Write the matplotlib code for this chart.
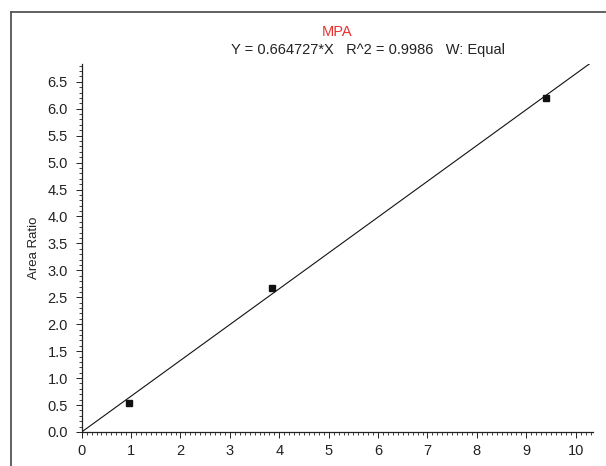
import numpy as np
import matplotlib.pyplot as plt
from matplotlib.ticker import MultipleLocator, FormatStrFormatter
from matplotlib.lines import Line2D

plt.rcParams['font.family'] = ['Liberation Sans', 'DejaVu Sans']

# calibration points
conc = [0.96, 3.86, 9.40]
area_ratio = [0.53, 2.68, 6.20]
slope = 0.664727
x_max = 10.35
y_max = 6.83

title = 'MPA'
equation = 'Y = 0.664727*X   R^2 = 0.9986   W: Equal'

fig = plt.figure(figsize=(6.06, 4.66), dpi=100)
ax = fig.add_axes([0.1348, 0.073, 0.8437, 0.7897])

# outer frame: only its left and top edges are inside the crop
fx, fy = 10.5 / 606, 1 - 12 / 466
fig.lines.append(Line2D([fx, fx], [0, fy], transform=fig.transFigure,
                        color='#555555', linewidth=1.3))
fig.lines.append(Line2D([fx, 1.0], [fy, fy], transform=fig.transFigure,
                        color='#555555', linewidth=1.3))

xs = np.array([0, x_max])
ax.plot(xs, slope * xs, color='#111111', linewidth=0.8)
ax.plot(conc, area_ratio, 's', color='#111111', markersize=4, linestyle='none')

ax.set_xlim(0, x_max)
ax.set_ylim(0, y_max)

ax.spines['top'].set_visible(False)
ax.spines['right'].set_visible(False)
for s in ('left', 'bottom'):
    ax.spines[s].set_linewidth(0.9)
    ax.spines[s].set_color('#222222')

ax.xaxis.set_major_locator(MultipleLocator(1))
ax.xaxis.set_minor_locator(MultipleLocator(0.1))
ax.yaxis.set_major_locator(MultipleLocator(0.5))
ax.yaxis.set_minor_locator(MultipleLocator(0.1))
ax.yaxis.set_major_formatter(FormatStrFormatter('%.1f'))

ax.tick_params(which='major', length=4, width=0.7, labelsize=10.5, colors='#222222')
ax.tick_params(axis='y', which='major', pad=6)
ax.tick_params(axis='x', which='major', pad=5)
ax.tick_params(which='minor', length=2.5, width=0.6, colors='#222222')

ax.set_ylabel('Area Ratio', fontsize=9.5, color='#222222', labelpad=5)

fig.text(337 / 606, 1 - 32 / 466, title, color='#e8312f', fontsize=10.5,
         ha='center', va='center')
fig.text(368 / 606, 1 - 50 / 466, equation, color='#222222', fontsize=10.5,
         ha='center', va='center')

fig.savefig('out.png', dpi=100)
